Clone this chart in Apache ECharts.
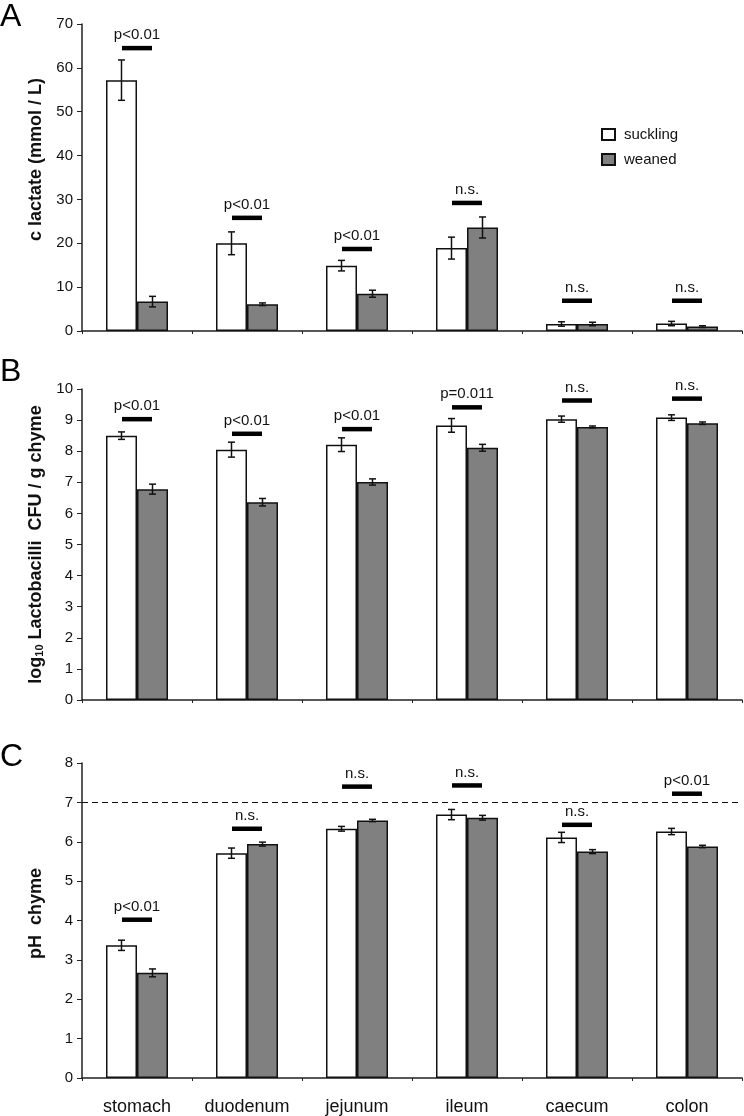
<!DOCTYPE html>
<html><head><meta charset="utf-8">
<script src="https://cdn.jsdelivr.net/npm/echarts/dist/echarts.min.js"></script>
<style>html,body{margin:0;padding:0;background:#fff}#c{width:744px;height:1116px}</style>
</head><body><div id="c"></div><script>
const categories = ['stomach', 'duodenum', 'jejunum', 'ileum', 'caecum', 'colon'];
const seriesNames = ['suckling', 'weaned'];

// Panel A: lactate (mmol/L)
const lactateSuckling = [57.2, 20.0, 14.9, 18.9, 1.6, 1.7];
const lactateSucklingErr = [4.6, 2.6, 1.2, 2.5, 0.5, 0.5];
const lactateWeaned = [6.7, 6.1, 8.5, 23.6, 1.6, 1.0];
const lactateWeanedErr = [1.2, 0.3, 0.8, 2.4, 0.4, 0.2];
const lactateSigY = [64.5, 25.8, 18.7, 29.2, 6.9, 6.9];
const lactateSigLabel = ['p<0.01', 'p<0.01', 'p<0.01', 'n.s.', 'n.s.', 'n.s.'];

// Panel B: log10 Lactobacilli CFU / g chyme
const lactobSuckling = [8.50, 8.05, 8.21, 8.83, 9.03, 9.08];
const lactobSucklingErr = [0.12, 0.24, 0.22, 0.22, 0.10, 0.09];
const lactobWeaned = [6.78, 6.36, 7.01, 8.11, 8.78, 8.90];
const lactobWeanedErr = [0.16, 0.12, 0.10, 0.11, 0.03, 0.04];
const lactobSigY = [9.03, 8.56, 8.71, 9.41, 9.63, 9.69];
const lactobSigLabel = ['p<0.01', 'p<0.01', 'p<0.01', 'p=0.011', 'n.s.', 'n.s.'];

// Panel C: pH chyme
const phSuckling = [3.37, 5.71, 6.33, 6.69, 6.11, 6.26];
const phSucklingErr = [0.13, 0.13, 0.06, 0.13, 0.13, 0.08];
const phWeaned = [2.67, 5.94, 6.54, 6.61, 5.75, 5.88];
const phWeanedErr = [0.10, 0.05, 0.03, 0.06, 0.05, 0.03];
const phSigY = [4.02, 6.33, 7.40, 7.43, 6.43, 7.22];
const phSigLabel = ['p<0.01', 'n.s.', 'n.s.', 'n.s.', 'n.s.', 'p<0.01'];
const phReference = 7;

const FONT = '"Liberation Sans", Arial, Helvetica, sans-serif';
const INK = '#111';
const BAR_W = 31;

const chart = echarts.init(document.getElementById('c'), null, {renderer: 'canvas'});

const grids = [
  {left: 82, width: 660, top: 24, height: 307},
  {left: 82, width: 660, top: 389, height: 311},
  {left: 82, width: 660, top: 763, height: 315}
];

const xAxes = [0, 1, 2].map(i => ({
  type: 'category', gridIndex: i, data: categories,
  axisLine: {show: true, lineStyle: {color: '#222', width: 1.5}},
  axisTick: {show: true, interval: 0, length: 3, lineStyle: {color: '#222', width: 1}},
  axisLabel: {show: i === 2, interval: 0, fontSize: 18, color: INK, margin: 20, fontFamily: FONT},
  splitLine: {show: false}
}));

function yAxis(i, max, interval, name, rich, pad) {
  return {
    type: 'value', gridIndex: i, min: 0, max: max, interval: interval,
    name: name, nameLocation: 'middle', nameGap: 37,
    nameTextStyle: {fontSize: 18, fontWeight: 'bold', color: INK, fontFamily: FONT, rich: rich, padding: pad || 0},
    axisLine: {show: true, lineStyle: {color: '#222', width: 1.5}},
    axisTick: {show: true, length: 5, lineStyle: {color: '#222', width: 1}},
    axisLabel: {fontSize: 15, color: INK, margin: 9, fontFamily: FONT},
    splitLine: {show: false}
  };
}

const yAxes = [
  yAxis(0, 70, 10, 'c lactate (mmol / L)', undefined, [0, 0, 0, 36]),
  yAxis(1, 10, 1, '{n|log}{s|10}{n| Lactobacilli  CFU / g chyme}', {
    n: {fontSize: 18, fontWeight: 'bold', color: INK, fontFamily: FONT},
    s: {fontSize: 11, fontWeight: 'bold', color: INK, fontFamily: FONT, verticalAlign: 'bottom', lineHeight: 11}
  }),
  yAxis(2, 8, 1, 'pH  chyme', undefined, [0, 0, 0, 14])
];

function barSeries(i, name, data, color, extra) {
  return Object.assign({
    type: 'bar', name: name, xAxisIndex: i, yAxisIndex: i, data: data,
    barWidth: BAR_W, barGap: '0%', silent: true,
    itemStyle: {color: color, borderColor: INK, borderWidth: 1.5},
    emphasis: {disabled: true}
  }, extra || {});
}

function errSeries(i, vals, errs, off) {
  return {
    type: 'custom', xAxisIndex: i, yAxisIndex: i, z: 5, silent: true,
    data: vals.map((v, k) => [k, v, errs[k]]),
    encode: {x: 0, y: 1},
    renderItem: (p, api) => {
      const k = api.value(0), v = api.value(1), e = api.value(2);
      const top = api.coord([k, v + e]), bot = api.coord([k, v - e]);
      const x = top[0] + off, w = 3.5;
      const st = {stroke: INK, lineWidth: 1.5};
      return {type: 'group', children: [
        {type: 'line', shape: {x1: x, y1: top[1], x2: x, y2: bot[1]}, style: st},
        {type: 'line', shape: {x1: x - w, y1: top[1], x2: x + w, y2: top[1]}, style: st},
        {type: 'line', shape: {x1: x - w, y1: bot[1], x2: x + w, y2: bot[1]}, style: st}
      ]};
    }
  };
}

function sigSeries(i, ys, labels) {
  return {
    type: 'custom', xAxisIndex: i, yAxisIndex: i, z: 6, silent: true,
    data: ys.map((y, k) => [k, y]),
    encode: {x: 0, y: 1},
    renderItem: (p, api) => {
      const c = api.coord([api.value(0), api.value(1)]);
      return {type: 'group', children: [
        {type: 'rect', shape: {x: c[0] - 15, y: c[1] - 2.25, width: 30, height: 4.5}, style: {fill: '#000'}},
        {type: 'text', x: c[0], y: c[1] - 13, style: {
          text: labels[p.dataIndex], fontSize: 15, fontFamily: FONT, fill: INK,
          align: 'center', verticalAlign: 'middle'}}
      ]};
    }
  };
}

function panel(i, s, se, w, we, sy, sl, extraW) {
  return [
    barSeries(i, seriesNames[0], s, '#ffffff'),
    barSeries(i, seriesNames[1], w, '#808080', extraW),
    errSeries(i, s, se, -BAR_W / 2),
    errSeries(i, w, we, BAR_W / 2),
    sigSeries(i, sy, sl)
  ];
}

const refLine = {
  markLine: {
    silent: true, symbol: 'none', label: {show: false},
    lineStyle: {type: [6, 4], color: INK, width: 1.2},
    data: [{yAxis: phReference}]
  }
};

const series = [].concat(
  panel(0, lactateSuckling, lactateSucklingErr, lactateWeaned, lactateWeanedErr, lactateSigY, lactateSigLabel),
  panel(1, lactobSuckling, lactobSucklingErr, lactobWeaned, lactobWeanedErr, lactobSigY, lactobSigLabel),
  panel(2, phSuckling, phSucklingErr, phWeaned, phWeanedErr, phSigY, phSigLabel, refLine)
);

chart.setOption({
  animation: false,
  backgroundColor: '#fff',
  textStyle: {fontFamily: FONT},
  grid: grids,
  xAxis: xAxes,
  yAxis: yAxes,
  legend: {
    data: seriesNames, orient: 'vertical', left: 596, top: 122,
    itemWidth: 13, itemHeight: 11, itemGap: 10, icon: 'rect', selectedMode: false,
    textStyle: {fontSize: 15, color: INK, fontFamily: FONT, padding: [0, 0, 0, 4]}
  },
  graphic: [
    {type: 'text', left: 0, top: 1, style: {text: 'A', fontSize: 32, fill: '#000', fontFamily: FONT}},
    {type: 'text', left: 0, top: 356, style: {text: 'B', fontSize: 32, fill: '#000', fontFamily: FONT}},
    {type: 'text', left: 0, top: 741, style: {text: 'C', fontSize: 32, fill: '#000', fontFamily: FONT}}
  ],
  series: series
});
</script></body></html>
